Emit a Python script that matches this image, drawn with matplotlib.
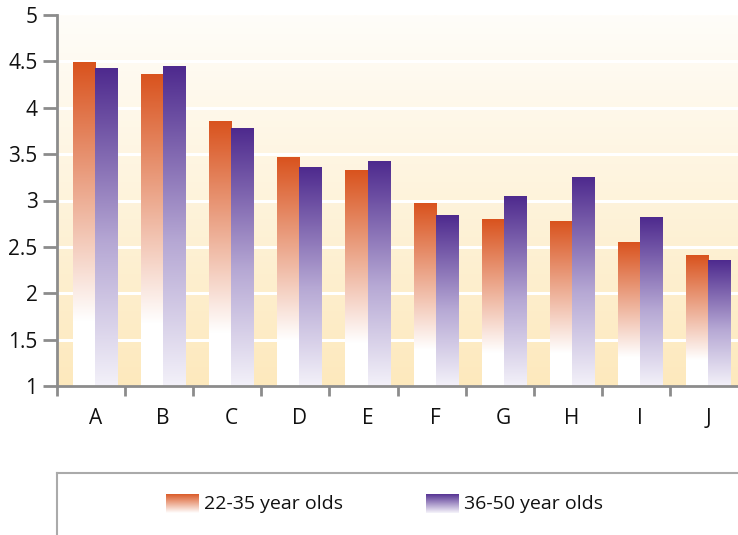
import matplotlib.pyplot as plt
import numpy as np
from matplotlib.colors import LinearSegmentedColormap
from matplotlib.lines import Line2D

categories = ["A", "B", "C", "D", "E", "F", "G", "H", "I", "J"]
young = [4.49, 4.36, 3.85, 3.46, 3.32, 2.97, 2.80, 2.77, 2.55, 2.41]
older = [4.42, 4.44, 3.78, 3.36, 3.42, 2.84, 3.04, 3.25, 2.82, 2.35]
series_names = ["22-35 year olds", "36-50 year olds"]

FONT = ["Open Sans", "DejaVu Sans"]

# colour ramps, 0 = bottom of bar, 1 = top
orange_cm = LinearSegmentedColormap.from_list(
    "orange", [(0, "#ffffff"), (0.2, "#ffffff"), (1, "#d9531e")])
purple_cm = LinearSegmentedColormap.from_list(
    "purple", [(0, "#f3f1f9"), (0.45, "#b6a8d4"), (1, "#4e2a8e")])
bg_cm = LinearSegmentedColormap.from_list(
    "bg", [(0, "#fde9bd"), (1, "#fffdf9")])
key_orange = LinearSegmentedColormap.from_list(
    "key_orange", [(0, "#ffffff"), (1, "#d9531e")])
key_purple = LinearSegmentedColormap.from_list(
    "key_purple", [(0, "#f6f4fb"), (1, "#4e2a8e")])

ramp = np.linspace(0, 1, 256).reshape(-1, 1)

fig = plt.figure(figsize=(7.38, 5.35), dpi=100)
ax = fig.add_axes([57 / 738, 149 / 535, 681 / 738, 371 / 535])

# background wash
ax.imshow(ramp, cmap=bg_cm, origin="lower", aspect="auto",
          extent=[0, len(categories), 1, 5], zorder=0)
for y in [1.5, 2, 2.5, 3, 3.5, 4, 4.5]:
    ax.axhline(y, color="white", lw=2.2, zorder=1)

width = 0.325
for i in range(len(categories)):
    centre = i + 0.56
    for vals, cm, x0 in [(young, orange_cm, centre - width),
                         (older, purple_cm, centre)]:
        ax.imshow(ramp, cmap=cm, origin="lower", aspect="auto",
                  extent=[x0, x0 + width, 1, vals[i]], zorder=2)

ax.set_xlim(0, len(categories))
ax.set_ylim(1, 5)

for side in ["top", "right"]:
    ax.spines[side].set_visible(False)
for side in ["left", "bottom"]:
    ax.spines[side].set_color("#8c8c8c")
    ax.spines[side].set_linewidth(2)

ax.set_yticks([1, 1.5, 2, 2.5, 3, 3.5, 4, 4.5, 5])
ax.set_yticklabels(["1", "1.5", "2", "2.5", "3", "3.5", "4", "4.5", "5"],
                   family=FONT, fontsize=15, color="#111111")
ax.tick_params(axis="y", length=10, width=2, color="#8c8c8c", pad=4)

ax.set_xticks(np.arange(len(categories)))
ax.set_xticklabels([])
ax.tick_params(axis="x", which="major", length=7, width=2, color="#8c8c8c")
ax.set_xticks(np.arange(len(categories)) + 0.56, minor=True)
ax.set_xticklabels(categories, minor=True, family=FONT, fontsize=15,
                   color="#111111")
ax.tick_params(axis="x", which="minor", length=0, pad=16)

# legend frame: top and left edges only
fig.add_artist(Line2D([57 / 738, 1], [1 - 473 / 535] * 2,
                      transform=fig.transFigure, color="#aaaaaa", lw=1.5))
fig.add_artist(Line2D([57 / 738] * 2, [0, 1 - 473 / 535],
                      transform=fig.transFigure, color="#aaaaaa", lw=1.5))

for name, cm, px in [(series_names[0], key_orange, 166),
                     (series_names[1], key_purple, 426)]:
    lax = fig.add_axes([px / 738, 1 - 513 / 535, 33 / 738, 19 / 535])
    lax.imshow(ramp, cmap=cm, origin="lower", aspect="auto")
    lax.axis("off")
    fig.text((px + 38) / 738, 1 - 504 / 535, name, family=FONT,
             fontsize=14, va="center", ha="left", color="#111111")

fig.savefig("out.png", dpi=100)
